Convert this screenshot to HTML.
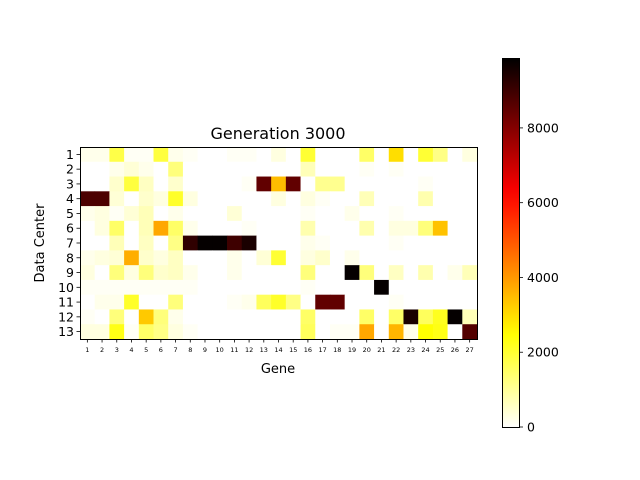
<!DOCTYPE html>
<html><head><meta charset="utf-8"><style>
body{margin:0;background:#fff;font-family:"DejaVu Sans","Liberation Sans",sans-serif}
svg text{font-family:"DejaVu Sans","Liberation Sans",sans-serif}
</style></head><body>
<svg id="chart" width="640" height="480" xmlns="http://www.w3.org/2000/svg" style="display:block">
<defs><linearGradient id="cb" x1="0" y1="1" x2="0" y2="0"></linearGradient></defs>
<text x="278" y="139" font-size="16" text-anchor="middle">Generation 3000</text>
<text x="278" y="373" font-size="13" text-anchor="middle">Gene</text>
<text transform="translate(44,243) rotate(-90)" font-size="13" text-anchor="middle">Data Center</text>
<g id="cells"></g>
<g id="ticks"></g>
<rect x="80.5" y="147.5" width="397" height="192" fill="none" stroke="#000" stroke-width="1"/>
<rect x="502.5" y="58.5" width="17" height="369" fill="url(#cb)" stroke="#000" stroke-width="1"/>
<g id="cbticks"></g>
</svg>
<script>
const genes = [1,2,3,4,5,6,7,8,9,10,11,12,13,14,15,16,17,18,19,20,21,22,23,24,25,26,27];
const centers = [1,2,3,4,5,6,7,8,9,10,11,12,13];
const cbTicks = [0,2000,4000,6000,8000];
const vmax = 9870;
const row1 = [200,200,1800,100,100,1900,200,100,0,0,100,100,0,300,0,2000,0,0,0,1500,0,3000,0,2000,1200,0,300];
const row2 = [0,0,200,400,200,0,1300,0,0,0,0,0,0,0,0,700,0,0,0,100,0,100,0,0,0,0,0];
const row3 = [0,0,500,1900,600,0,500,0,0,0,0,100,8500,3500,8500,0,1100,1100,0,0,0,0,0,100,0,0,0];
const row4 = [8800,8800,400,0,500,300,2100,300,0,0,0,0,0,300,0,300,100,0,0,700,0,0,0,800,0,0,0];
const row5 = [200,300,100,400,700,0,200,0,0,0,400,0,0,0,0,100,0,0,200,0,0,100,0,0,0,0,0];
const row6 = [0,300,1500,0,700,3800,1500,200,0,0,0,100,0,0,0,800,0,0,0,800,0,300,300,1300,3400,0,0];
const row7 = [0,0,700,0,600,0,1200,9200,9800,9800,9000,9500,0,0,0,200,100,0,0,0,0,100,0,0,0,0,0];
const row8 = [200,300,400,3700,500,300,600,0,0,0,200,0,400,2000,0,300,500,0,200,0,0,0,0,0,0,0,0];
const row9 = [300,0,1300,300,1300,500,600,200,0,0,200,0,0,0,0,1300,0,0,9800,1300,0,600,0,800,0,200,700];
const row10 = [100,100,100,100,100,100,100,100,0,0,0,0,0,0,0,100,0,0,0,0,9800,0,0,0,0,0,0];
const row11 = [0,200,200,2100,0,0,1300,0,0,0,100,200,1600,2100,1200,0,8500,8500,0,0,0,100,0,0,0,0,0];
const row12 = [100,0,1300,0,3300,1300,200,0,0,0,0,0,0,0,0,1500,0,0,0,1500,0,1500,9500,1600,2200,9800,700];
const row13 = [300,300,2300,100,1500,1200,300,100,0,0,0,0,0,0,0,1600,0,100,100,3800,0,3600,200,2500,2300,0,8700];
const matrix = [row1,row2,row3,row4,row5,row6,row7,row8,row9,row10,row11,row12,row13];

const NS="http://www.w3.org/2000/svg";
const X0=80,X1=477,Y0=147,Y1=339;
const cw=(X1-X0)/genes.length, ch=(Y1-Y0)/centers.length;
const xPos=i=>X0+i*cw, yPos=j=>Y0+j*ch;
const cbY=v=>427-v/vmax*369;
function hotR(v){
  const x=1-Math.max(0,Math.min(1,v/vmax));
  const c=t=>Math.round(255*Math.max(0,Math.min(1,t)));
  return `rgb(${c(x/0.365)},${c((x-0.365)/0.381)},${c((x-0.746)/0.254)})`;
}
function mk(tag,attrs,parent){const e=document.createElementNS(NS,tag);for(const k in attrs)e.setAttribute(k,attrs[k]);parent.appendChild(e);return e;}
const cells=document.getElementById('cells');
matrix.forEach((row,j)=>row.forEach((v,i)=>{
  const r=mk('rect',{x:xPos(i),y:yPos(j),width:cw+0.4,height:ch+0.4,fill:hotR(v)},cells);
  
  
}));
const ticks=document.getElementById('ticks');
genes.forEach((g,i)=>{
  const cx=xPos(i)+cw/2;
  mk('line',{x1:cx,y1:Y1,x2:cx,y2:Y1+3.5,stroke:'#000','stroke-width':0.8},ticks);
  const t=mk('text',{x:cx,y:Y1+13,'font-size':6.5,'text-anchor':'middle'},ticks);
  t.textContent=g;
  
  
});
centers.forEach((c,j)=>{
  const cy=yPos(j)+ch/2;
  mk('line',{x1:X0,y1:cy,x2:X0-3.5,y2:cy,stroke:'#000','stroke-width':0.8},ticks);
  const t=mk('text',{x:X0-6,y:cy+4.5,'font-size':12.5,'text-anchor':'end'},ticks);
  t.textContent=c;
  
  
});
const grad=document.getElementById('cb');
for(let k=0;k<=20;k++){mk('stop',{offset:k/20,'stop-color':hotR(vmax*k/20)},grad);}
const cbt=document.getElementById('cbticks');
cbTicks.forEach(v=>{
  const y=cbY(v);
  mk('line',{x1:519,y1:y,x2:523,y2:y,stroke:'#000','stroke-width':0.8},cbt);
  const t=mk('text',{x:527,y:y+4.5,'font-size':12.5},cbt);
  t.textContent=v;
  
  
});
</script>
</body></html>
